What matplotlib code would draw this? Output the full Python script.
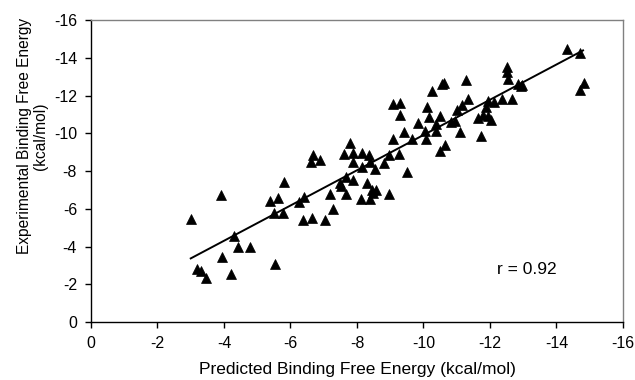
import matplotlib
matplotlib.use("Agg")
import matplotlib.pyplot as plt

plt.rcParams['font.family'] = ['Liberation Sans', 'DejaVu Sans']

# predicted vs experimental binding free energies (kcal/mol)
predicted = [
    -3.02, -3.92, -3.19, -3.32, -3.47, -3.95, -4.21, -4.29, -4.42, -4.77,
    -5.54, -5.38, -5.62, -5.82, -5.50, -5.77, -6.27, -6.40, -6.37, -6.65,
    -7.03, -7.20, -7.28, -7.49, -7.52, -7.67, -7.67, -7.87, -6.62, -6.69,
    -6.89, -7.79, -7.62, -7.87, -8.15, -7.89, -8.37, -8.39, -8.15, -8.55,
    -8.80, -8.95, -9.07, -9.42, -9.25, -9.52, -8.29, -8.45, -8.57, -8.47,
    -8.12, -8.39, -8.95, -11.27, -10.57, -10.62, -10.25, -9.07, -9.29, -10.12,
    -11.15, -11.35, -11.02, -9.30, -10.17, -10.49, -9.84, -10.37, -10.82, -10.95,
    -10.05, -10.39, -11.09, -9.65, -10.07, -11.72, -10.65, -10.50, -11.95, -12.12,
    -11.87, -11.65, -11.79, -11.95, -12.02, -14.32, -14.70, -14.82, -14.70, -12.52,
    -12.52, -12.55, -12.85, -12.97, -12.92, -12.37, -12.67,
]
experimental = [
    -5.45, -6.72, -2.79, -2.72, -2.31, -3.46, -2.54, -4.57, -3.95, -3.95,
    -3.07, -6.42, -6.58, -7.42, -5.80, -5.80, -6.37, -6.60, -5.43, -5.49,
    -5.43, -6.77, -5.98, -7.37, -7.20, -6.77, -7.69, -7.51, -8.48, -8.84,
    -8.57, -9.49, -8.89, -8.98, -8.98, -8.48, -8.84, -8.48, -8.22, -8.13,
    -8.43, -8.84, -9.72, -10.07, -8.92, -7.95, -7.37, -7.02, -6.98, -6.81,
    -6.54, -6.54, -6.77, -12.80, -12.59, -12.66, -12.24, -11.57, -11.60, -11.39,
    -11.48, -11.83, -11.25, -10.95, -10.86, -10.90, -10.55, -10.51, -10.60, -10.63,
    -10.12, -10.12, -10.07, -9.72, -9.72, -9.86, -9.40, -9.07, -11.71, -11.65,
    -11.39, -10.83, -10.95, -10.90, -10.72, -14.48, -14.25, -12.66, -12.28, -13.51,
    -13.25, -12.89, -12.63, -12.54, -12.49, -11.83, -11.83,
]

# regression line end points
fit_x = [-3.0, -14.8]
fit_y = [-3.37, -14.39]

ticks = list(range(0, -17, -2))

fig = plt.figure(figsize=(6.35, 3.8), dpi=100)
ax = fig.add_axes([0.1433, 0.1526, 0.8377, 0.7947])

ax.plot(predicted, experimental, linestyle="none", marker="^",
        markersize=7.5, color="black", markeredgewidth=0.5, zorder=3)
ax.plot(fit_x, fit_y, color="black", linewidth=1.4, zorder=2)

ax.set_xlim(0, -16)
ax.set_ylim(0, -16)
ax.set_xticks(ticks)
ax.set_yticks(ticks)
ax.set_xticklabels([str(t) for t in ticks])
ax.set_yticklabels([str(t) for t in ticks])
ax.tick_params(direction="out", length=4, width=1, labelsize=11.5, pad=6)

for side in ["left", "bottom"]:
    ax.spines[side].set_color("black")
    ax.spines[side].set_linewidth(1)
for side in ["top", "right"]:
    ax.spines[side].set_color("#808080")
    ax.spines[side].set_linewidth(1)

ax.set_xlabel("Predicted Binding Free Energy (kcal/mol)", fontsize=12.5, labelpad=8)
ax.set_ylabel("Experimental Binding Free Energy\n(kcal/mol)", fontsize=11.2,
              linespacing=1.15)
ax.yaxis.set_label_coords(-0.08, 0.615)

ax.text(-12.2, -2.8, "r = 0.92", fontsize=12.5, ha="left", va="center")

fig.savefig("out.png", dpi=100)
